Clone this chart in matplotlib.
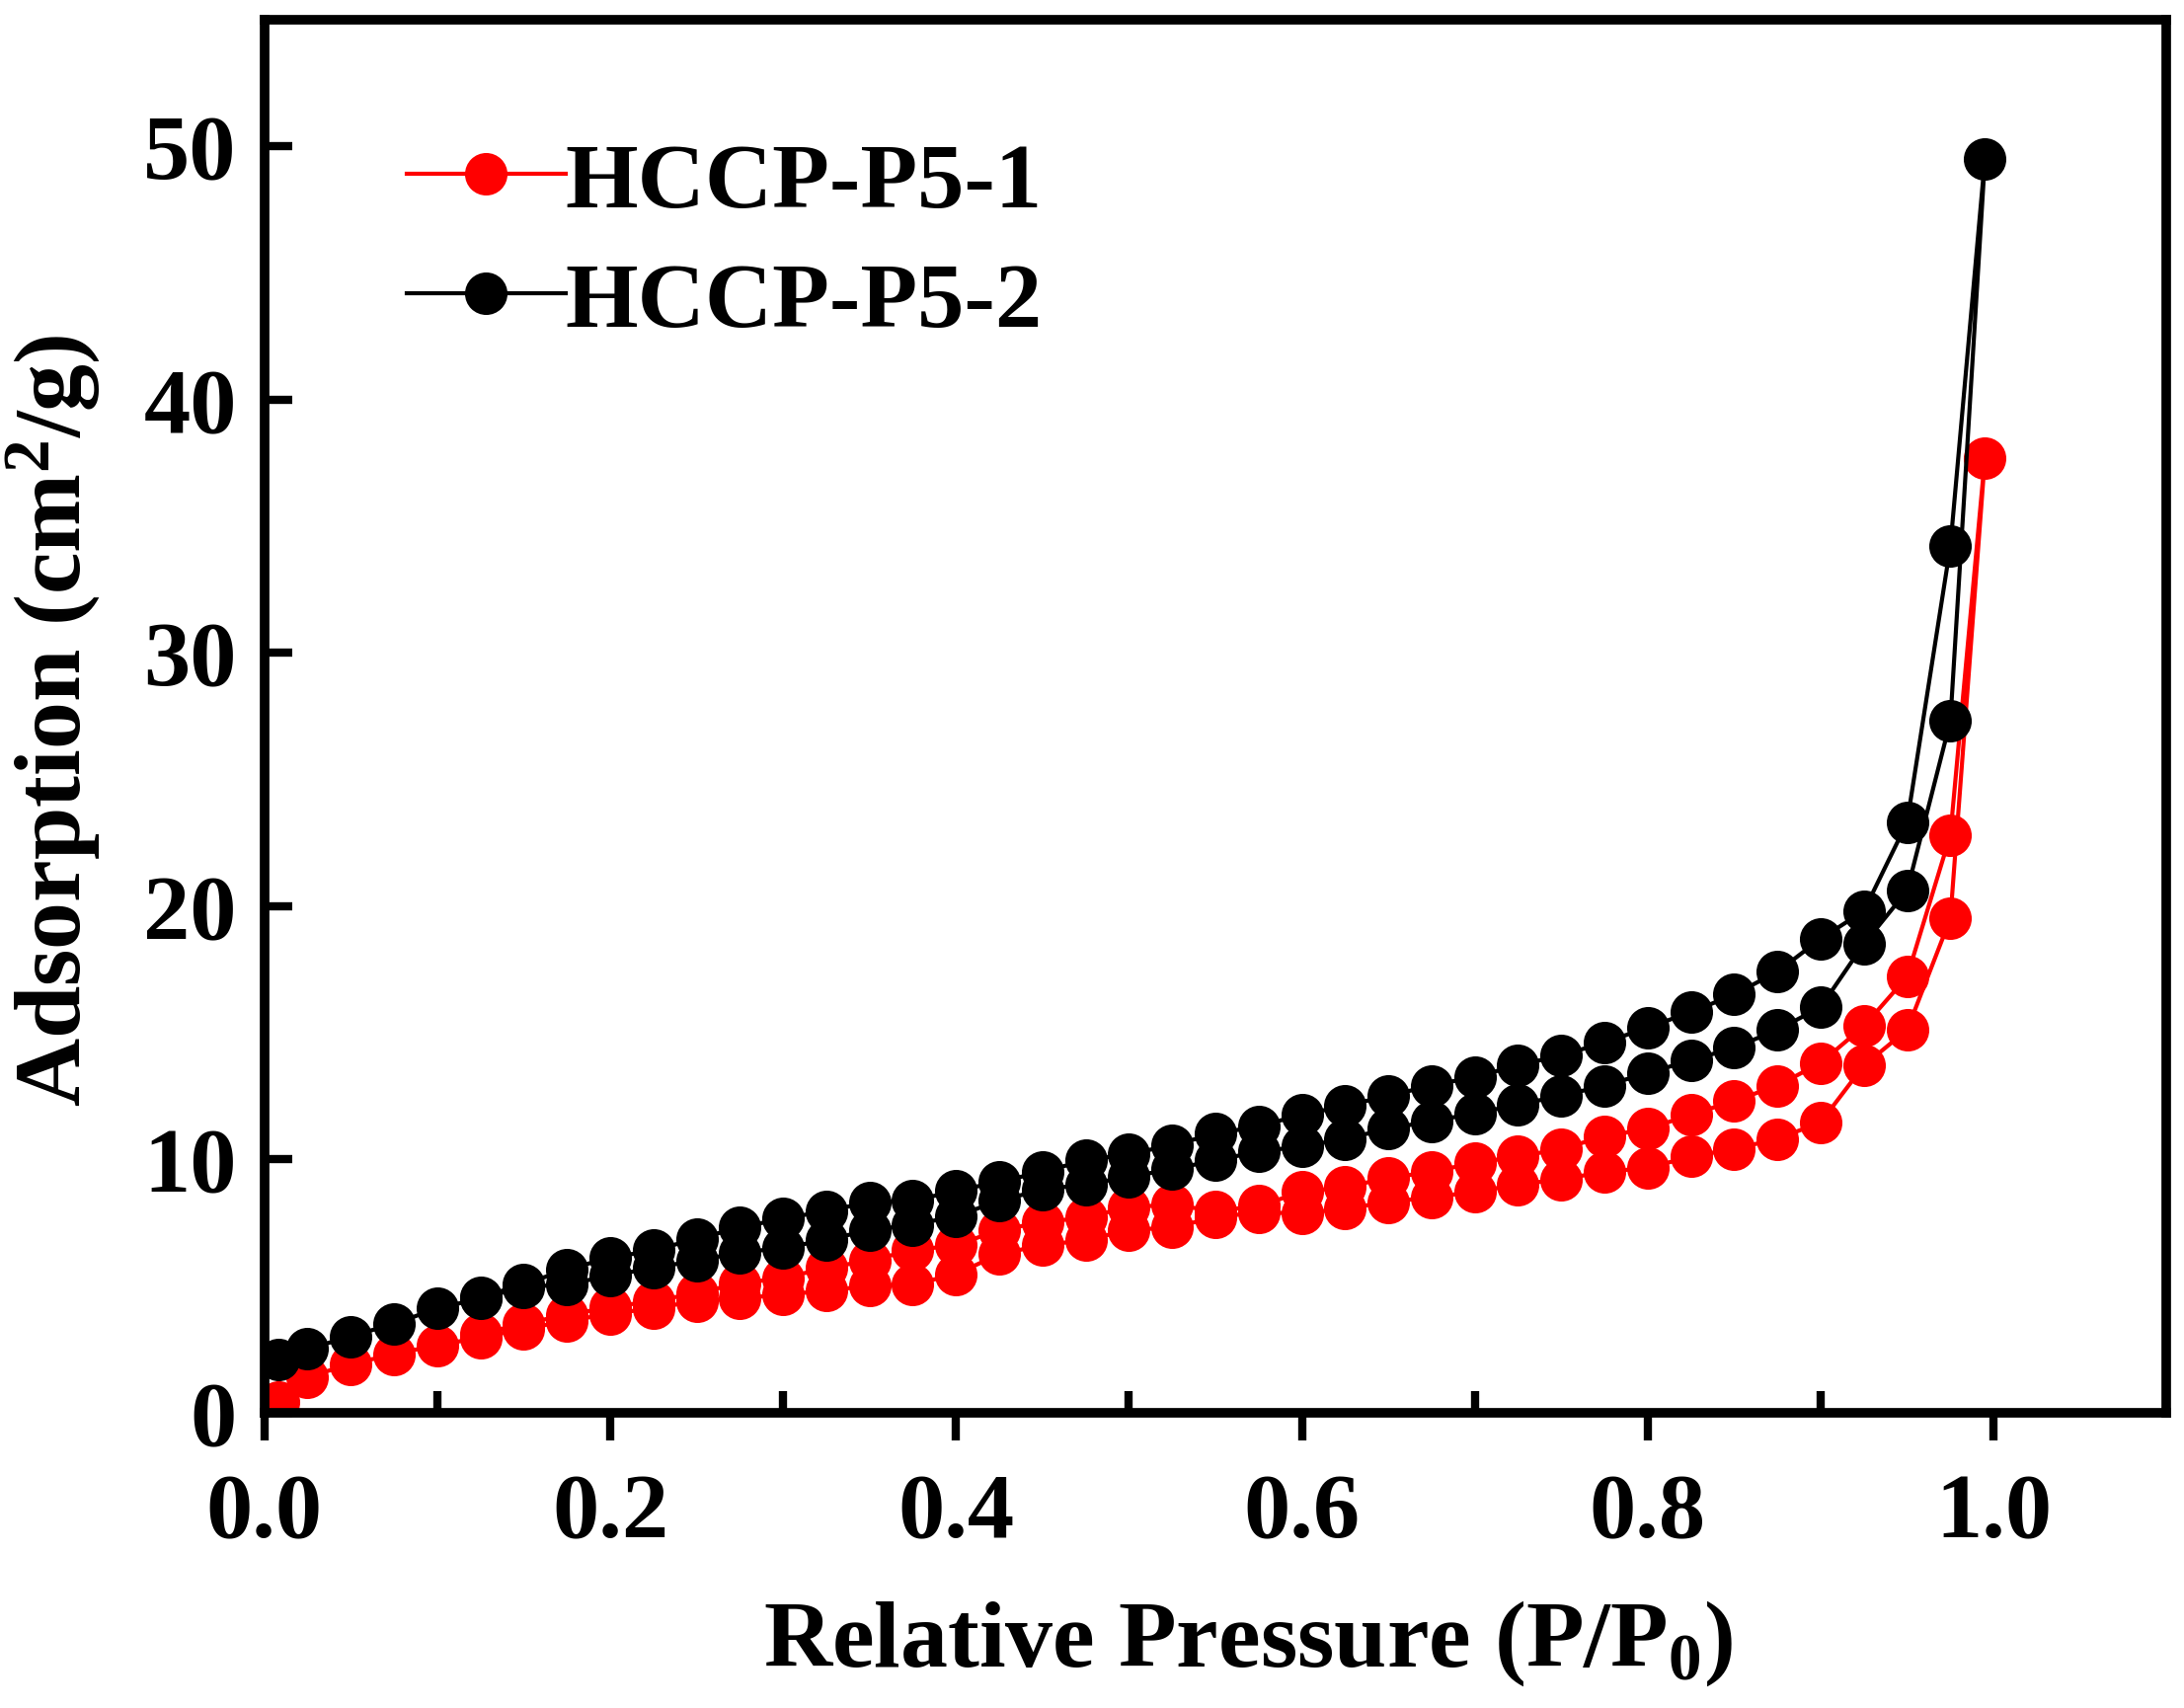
import numpy as np
import matplotlib
matplotlib.use("Agg")
import matplotlib.pyplot as plt
from matplotlib.ticker import FixedLocator, FormatStrFormatter

# N2 isotherm data (adsorption up, desorption back down)
x_ads = [0.008, 0.025, 0.05, 0.075, 0.1, 0.125, 0.15, 0.175, 0.2, 0.225, 0.25,
         0.275, 0.3, 0.325, 0.35, 0.375, 0.4, 0.425, 0.45, 0.475, 0.5, 0.525,
         0.55, 0.575, 0.6, 0.625, 0.65, 0.675, 0.7, 0.725, 0.75, 0.775, 0.8,
         0.825, 0.85, 0.875, 0.9, 0.925, 0.95, 0.975, 0.995]
x_des = [0.975, 0.95, 0.925, 0.9, 0.875, 0.85, 0.825, 0.8, 0.775, 0.75, 0.725,
         0.7, 0.675, 0.65, 0.625, 0.6, 0.575, 0.55, 0.525, 0.5, 0.475, 0.45,
         0.425, 0.4, 0.375, 0.35, 0.325, 0.3, 0.275, 0.25, 0.225, 0.2, 0.175,
         0.15, 0.125]

p51_ads = [0.4, 1.4, 1.9, 2.3, 2.65, 2.95, 3.3, 3.6, 3.9, 4.1, 4.4, 4.5, 4.65,
           4.8, 5.0, 5.05, 5.45, 6.25, 6.6, 6.8, 7.2, 7.3, 7.7, 7.9, 7.85, 8.05,
           8.3, 8.5, 8.7, 9.0, 9.2, 9.5, 9.65, 10.1, 10.4, 10.8, 11.45, 13.7,
           15.1, 19.5, 37.7]
p51_des = [22.8, 17.2, 15.25, 13.8, 12.9, 12.3, 11.75, 11.2, 10.9, 10.4, 10.1,
           9.85, 9.5, 9.25, 8.9, 8.7, 8.15, 7.95, 8.2, 8.1, 7.7, 7.5, 7.2, 6.6,
           6.4, 6.0, 5.7, 5.3, 5.1, 4.7, 4.4, 4.15, 3.85, 3.5, 3.1]

p52_ads = [2.1, 2.5, 3.0, 3.5, 4.1, 4.5, 4.95, 5.05, 5.4, 5.7, 6.0, 6.3, 6.5,
           6.8, 7.2, 7.4, 7.75, 8.35, 8.8, 9.0, 9.3, 9.6, 9.95, 10.3, 10.5, 10.8,
           11.2, 11.5, 11.8, 12.15, 12.5, 12.9, 13.4, 13.9, 14.4, 15.1, 16.0,
           18.5, 20.6, 27.3, 49.5]
p52_des = [34.2, 23.3, 19.8, 18.7, 17.4, 16.5, 15.8, 15.2, 14.6, 14.1, 13.7,
           13.25, 12.9, 12.5, 12.1, 11.75, 11.3, 11.0, 10.55, 10.2, 9.95, 9.5,
           9.1, 8.75, 8.35, 8.3, 7.95, 7.65, 7.3, 6.85, 6.4, 6.1, 5.65, 5.05, 4.55]

labels = ["HCCP-P5-1", "HCCP-P5-2"]

plt.rcParams["font.family"] = ["Liberation Serif", "DejaVu Serif"]
plt.rcParams["font.weight"] = "bold"
plt.rcParams["mathtext.fontset"] = "custom"
plt.rcParams["mathtext.rm"] = "Liberation Serif:bold"
plt.rcParams["mathtext.it"] = "Liberation Serif:bold"
plt.rcParams["mathtext.bf"] = "Liberation Serif:bold"

fig = plt.figure(figsize=(22.12, 17.31), dpi=100)
ax = fig.add_axes([0.121, 0.173, 0.871, 0.815])

x_all = np.array(x_ads + x_des)
for ads, des, col, lab in [(p51_ads, p51_des, "#ff0000", labels[0]),
                           (p52_ads, p52_des, "black", labels[1])]:
    ax.plot(x_all, np.array(ads + des), color=col, lw=3, marker="o",
            markersize=31, markeredgewidth=0, label=lab)

ax.set_xlim(0, 1.1)
ax.set_ylim(0, 55)

ax.xaxis.set_major_locator(FixedLocator([0, 0.2, 0.4, 0.6, 0.8, 1.0]))
ax.xaxis.set_minor_locator(FixedLocator([0.1, 0.3, 0.5, 0.7, 0.9]))
ax.xaxis.set_major_formatter(FormatStrFormatter("%.1f"))
ax.yaxis.set_major_locator(FixedLocator([0, 10, 20, 30, 40, 50]))

for s in ax.spines.values():
    s.set_linewidth(7)

ax.tick_params(axis="x", which="major", direction="out", length=20, width=6,
               labelsize=68, pad=24)
ax.tick_params(axis="x", which="minor", direction="in", length=16, width=6)
ax.tick_params(axis="y", which="major", direction="in", length=20, width=6,
               labelsize=68, pad=20)
ax.tick_params(top=False, right=False, which="both")

ax.set_xlabel("Relative Pressure (P/P$_0$)", fontsize=69, fontweight="bold")
ax.set_ylabel("Adsorption (cm$^2$/g)", fontsize=69, fontweight="bold")
ax.xaxis.set_label_coords(0.517, -0.133)
ax.yaxis.set_label_coords(-0.085, 0.4975)

leg = ax.legend(loc="upper left", bbox_to_anchor=(0.075, 0.913), frameon=False,
                fontsize=68, handlelength=1.7, handletextpad=0.0,
                labelspacing=0.37, borderaxespad=0, borderpad=0, numpoints=1)

fig.savefig("out.png", dpi=100)
